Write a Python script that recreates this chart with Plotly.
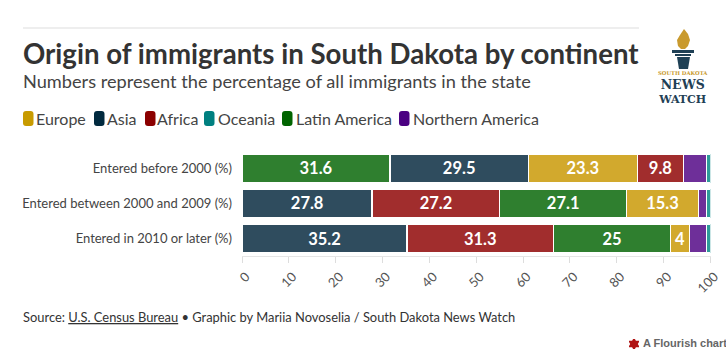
import plotly.graph_objects as go

W, H = 726, 360
FONT = "Lato"
TEXT = "#333333"

rows = ["Entered before 2000 (%)", "Entered between 2000 and 2009 (%)", "Entered in 2010 or later (%)"]
continents = ["Europe", "Asia", "Africa", "Oceania", "Latin America", "Northern America"]
legend_colors = ["#c89b00", "#012a3f", "#8b0000", "#008080", "#006400", "#4b0082"]
bar_colors = ["#d2a92d", "#2f4c5e", "#a12d2d", "#2f9a9a", "#2f7f2f", "#6e2f99"]

# each row is sorted independently, so segments are listed per stack position
pos1_names = ["Latin America", "Asia", "Asia"]
pos1_vals = [31.6, 27.8, 35.2]
pos2_names = ["Asia", "Africa", "Africa"]
pos2_vals = [29.5, 27.2, 31.3]
pos3_names = ["Europe", "Latin America", "Latin America"]
pos3_vals = [23.3, 27.1, 25]
pos4_names = ["Africa", "Europe", "Europe"]
pos4_vals = [9.8, 15.3, 4]
pos5_names = ["Northern America", "Northern America", "Northern America"]
pos5_vals = [4.9, 1.7, 3.6]
pos6_names = ["Oceania", "Oceania", "Oceania"]
pos6_vals = [0.9, 0.9, 0.9]

stack = [
    (pos1_names, pos1_vals, True),
    (pos2_names, pos2_vals, True),
    (pos3_names, pos3_vals, True),
    (pos4_names, pos4_vals, True),
    (pos5_names, pos5_vals, False),
    (pos6_names, pos6_vals, False),
]
x_ticks = [0, 10, 20, 30, 40, 50, 60, 70, 80, 90, 100]
color_of = dict(zip(continents, bar_colors))

fig = go.Figure()
for names, vals, labelled in stack:
    fig.add_trace(go.Bar(
        y=rows, x=vals, orientation="h",
        marker=dict(color=[color_of[n] for n in names], line=dict(color="#ffffff", width=1.5)),
        text=[f"{v:g}" for v in vals] if labelled else None,
        textposition="inside" if labelled else "none",
        insidetextanchor="middle", textangle=0, constraintext="none",
        textfont=dict(family=FONT, size=16.5, color="#ffffff", weight="bold"),
        customdata=names, hovertemplate="%{customdata}: %{x}<extra></extra>",
        showlegend=False,
    ))


def px(x):
    return x / W


def py(y):
    return 1 - y / H


def note(x, y, text, size, color=TEXT, anchor="left", family=FONT, bold=False, **kw):
    fig.add_annotation(xref="paper", yref="paper", x=px(x), y=py(y), text=text, showarrow=False,
                       xanchor=anchor, yanchor="middle", align=anchor,
                       font=dict(family=family, size=size, color=color, weight="bold" if bold else "normal"),
                       borderpad=0, borderwidth=0, **kw)


def pxpath(points):
    return "M" + " L".join(f"{px(a):.5f},{py(b):.5f}" for a, b in points) + " Z"


def shape(path, color):
    fig.add_shape(type="path", xref="paper", yref="paper", path=path, fillcolor=color, line=dict(width=0), layer="above")


# top rule
fig.add_shape(type="line", xref="paper", yref="paper", x0=px(23), x1=px(639), y0=py(28), y1=py(28),
              line=dict(color="#dddddd", width=1))

note(23, 53, "Origin of immigrants in South Dakota by continent", 27.6, bold=True)
note(23, 81, "Numbers represent the percentage of all immigrants in the state", 18.2, color="#444444")

# legend
legend_x = [23, 94, 145, 204, 282, 399]
label_x = [36, 107, 157, 218, 296, 413]
for name, col, sx, lx in zip(continents, legend_colors, legend_x, label_x):
    x0, x1, y0, y1, r = sx, sx + 10.5, 111, 126, 3
    fig.add_shape(type="path", xref="paper", yref="paper", fillcolor=col, line=dict(width=0),
                  path=(f"M{px(x0+r)},{py(y0)} L{px(x1-r)},{py(y0)} Q{px(x1)},{py(y0)} {px(x1)},{py(y0+r)} "
                        f"L{px(x1)},{py(y1-r)} Q{px(x1)},{py(y1)} {px(x1-r)},{py(y1)} "
                        f"L{px(x0+r)},{py(y1)} Q{px(x0)},{py(y1)} {px(x0)},{py(y1-r)} "
                        f"L{px(x0)},{py(y0+r)} Q{px(x0)},{py(y0)} {px(x0+r)},{py(y0)} Z"))
    note(lx, 118.5, name, 16, color="#444444")

# footer
note(23, 317, "Source: <u>U.S. Census Bureau</u> • Graphic by Mariia Novoselia / South Dakota News Watch", 12.9, color="#333333")
note(727, 343, "A Flourish chart", 11, color="#666666", anchor="right", family="Liberation Sans", bold=True)
fig.add_trace(go.Scatter(x=[0.5], y=[0.5], xaxis="x2", yaxis="y2", mode="markers",
                         marker=dict(symbol="hexagram", size=10, color="#b01414"),
                         hoverinfo="skip", showlegend=False))

# logo
GOLD, NAVY = "#c99a2e", "#1f4055"
fl = [(684, 29), (688, 34), (690, 40), (688, 46), (685, 49), (681, 49), (678, 46), (677, 40), (680, 35)]
shape(pxpath(fl), GOLD)
shape(pxpath([(672, 50), (694, 50), (694, 53), (672, 53)]), NAVY)
shape(pxpath([(675, 54), (691, 54), (691, 56), (675, 56)]), NAVY)
shape(pxpath([(677, 57), (690, 57), (688, 69), (679, 69)]), NAVY)
note(682.5, 88,
     f'<span style="font-size:5.3px;color:{GOLD}">SOUTH DAKOTA</span><br>'
     '<span style="font-size:12.5px">NEWS</span><br>'
     '<span style="font-size:11px">WATCH</span>',
     10.6, color=NAVY, anchor="center", family="DejaVu Serif", bold=True)

fig.update_layout(
    width=W, height=H, margin=dict(l=0, r=0, t=0, b=0),
    paper_bgcolor="#ffffff", plot_bgcolor="#ffffff",
    barmode="stack", bargap=0.19, showlegend=False,
    font=dict(family=FONT, color="#444444"),
    xaxis=dict(domain=[242 / W, 710.5 / W], range=[0, 100], tickvals=x_ticks, ticktext=[str(t) for t in x_ticks],
               tickangle=-45, ticks="outside", ticklen=6, tickcolor="#dddddd", tickwidth=1, automargin=False,
               tickfont=dict(family=FONT, size=13, color="#555555"), ticklabelshift=4, ticklabelstandoff=1,
               showgrid=False, zeroline=False, showline=True, linecolor="#e5e5e5", linewidth=1, anchor="y"),
    yaxis=dict(domain=[1 - 256 / H, 1 - 151 / H], autorange="reversed", ticks="", ticklabelstandoff=9, automargin=False,
               tickfont=dict(family=FONT, size=13, color="#444444"), showline=False, showgrid=False, zeroline=False),
    xaxis2=dict(domain=[629 / W, 639 / W], range=[0, 1], visible=False, anchor="y2", automargin=False),
    yaxis2=dict(domain=[1 - 349 / H, 1 - 339 / H], range=[0, 1], visible=False, anchor="x2", automargin=False),
)

fig.write_html("out.html", config=dict(displayModeBar=False),
               post_script="document.body.style.margin='0';")
